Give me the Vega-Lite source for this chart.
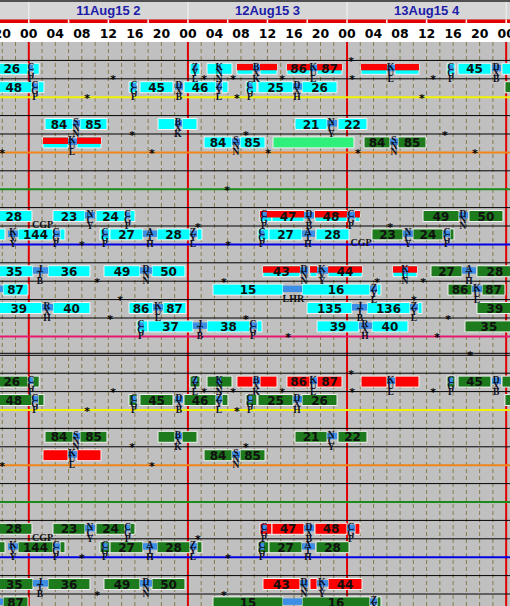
{
"$schema": "https://vega.github.io/schema/vega-lite/v6.json",
"width": 510, "height": 606,
"autosize": {"type": "none"},
"padding": 0,
"background": "#c0c0c0",
"config": {"view": {"stroke": null, "fill": "#c0c0c0"}},
"data": {"values": [{"z": 0}]},
"datasets": {
"grid": [{"h":-4},{"h":-2},{"h":0},{"h":2},{"h":4},{"h":6},{"h":8},{"h":10},{"h":12},{"h":14},{"h":16},{"h":18},{"h":20},{"h":22},{"h":24},{"h":26},{"h":28},{"h":30},{"h":32},{"h":34},{"h":36},{"h":38},{"h":40},{"h":42},{"h":44},{"h":46},{"h":48},{"h":50},{"h":52},{"h":54},{"h":56},{"h":58},{"h":60},{"h":62},{"h":64},{"h":66},{"h":68},{"h":70},{"h":72}],
"six": [{"h":0},{"h":6},{"h":12},{"h":18},{"h":24},{"h":30},{"h":36},{"h":42},{"h":48},{"h":54},{"h":60},{"h":66},{"h":72}],
"days": [{"h":12,"t":"11Aug15 2"},{"h":36,"t":"12Aug15 3"},{"h":60,"t":"13Aug15 4"}],
"hours": [{"h":-4,"t":"20"},{"h":0,"t":"00"},{"h":4,"t":"04"},{"h":8,"t":"08"},{"h":12,"t":"12"},{"h":16,"t":"16"},{"h":20,"t":"20"},{"h":24,"t":"00"},{"h":28,"t":"04"},{"h":32,"t":"08"},{"h":36,"t":"12"},{"h":40,"t":"16"},{"h":44,"t":"20"},{"h":48,"t":"00"},{"h":52,"t":"04"},{"h":56,"t":"08"},{"h":60,"t":"12"},{"h":64,"t":"16"},{"h":68,"t":"20"},{"h":72,"t":"00"}],
"hl": [{"r":1,"c":"k"},{"r":2,"c":"k"},{"r":3,"c":"y"},{"r":4,"c":"k"},{"r":5,"c":"k"},{"r":6,"c":"o"},{"r":7,"c":"k"},{"r":8,"c":"g"},{"r":9,"c":"k"},{"r":10,"c":"k"},{"r":11,"c":"b"},{"r":12,"c":"k"},{"r":13,"c":"k"},{"r":14,"c":"k"},{"r":15,"c":"k"},{"r":16,"c":"m"},{"r":18,"c":"k"},{"r":19,"c":"k"},{"r":20,"c":"y"},{"r":21,"c":"k"},{"r":22,"c":"k"},{"r":23,"c":"o"},{"r":24,"c":"k"},{"r":25,"c":"g"},{"r":26,"c":"k"},{"r":27,"c":"k"},{"r":28,"c":"b"},{"r":29,"c":"k"},{"r":30,"c":"k"}],
"bars": [
{"s":-5,"e":-0.12,"r":2,"c":"cy","t":"26"},{"s":0.63,"e":1.57,"r":2,"c":"cy","t":""},{"s":24.31,"e":25.82,"r":2,"c":"cy","t":""},{"s":26.88,"e":30.65,"r":2,"c":"cy","t":""},{"s":31.4,"e":33.82,"r":2,"c":"rc","t":""},{"s":34.87,"e":37.44,"r":2,"c":"rc","t":""},{"s":38.94,"e":42.41,"r":2,"c":"rc","t":"86"},{"s":43.48,"e":47.24,"r":2,"c":"rc","t":"87"},{"s":50.11,"e":54.03,"r":2,"c":"rc","t":""},{"s":55.23,"e":58.85,"r":2,"c":"rc","t":""},{"s":63.08,"e":64.28,"r":2,"c":"cy","t":""},{"s":64.74,"e":69.71,"r":2,"c":"cy","t":"45"},{"s":71.37,"e":73,"r":2,"c":"cy","t":""},
{"s":-5,"e":0.48,"r":3,"c":"cy","t":"48"},{"s":1.39,"e":2.29,"r":3,"c":"cy","t":""},{"s":15.11,"e":16.32,"r":3,"c":"cy","t":""},{"s":16.77,"e":21.75,"r":3,"c":"cy","t":"45"},{"s":23.41,"e":28.24,"r":3,"c":"cy","t":"46"},{"s":29.14,"e":30.05,"r":3,"c":"cy","t":""},{"s":32.76,"e":34.4,"r":3,"c":"cy","t":""},{"s":34.57,"e":39.85,"r":3,"c":"cy","t":"25"},{"s":41.21,"e":46.49,"r":3,"c":"cy","t":"26"},{"s":71.82,"e":73,"r":3,"c":"gr","t":""},
{"s":2.44,"e":6.67,"r":5,"c":"cy","t":"84"},{"s":7.72,"e":11.79,"r":5,"c":"cy","t":"85"},{"s":19.49,"e":22.05,"r":5,"c":"cy","t":""},{"s":23.11,"e":25.37,"r":5,"c":"cy","t":""},{"s":40.15,"e":44.99,"r":5,"c":"cy","t":"21"},{"s":46.64,"e":51.01,"r":5,"c":"cy","t":"22"},
{"s":2.14,"e":5.91,"r":6,"c":"rc","t":""},{"s":7.27,"e":10.89,"r":6,"c":"rc","t":""},{"s":26.43,"e":30.65,"r":6,"c":"cy","t":"84"},{"s":31.86,"e":35.63,"r":6,"c":"cy","t":"85"},{"s":36.83,"e":49.05,"r":6,"c":"lg","t":""},{"s":50.56,"e":54.48,"r":6,"c":"gr","t":"84"},{"s":55.69,"e":59.91,"r":6,"c":"gr","t":"85"},
{"s":-5,"e":0.48,"r":10,"c":"cy","t":"28"},{"s":3.65,"e":8.48,"r":10,"c":"cy","t":"23"},{"s":10.14,"e":14.51,"r":10,"c":"cy","t":"24"},{"s":15.26,"e":16.02,"r":10,"c":"cy","t":""},{"s":34.87,"e":36.68,"r":10,"c":"rc","t":""},{"s":36.68,"e":41.51,"r":10,"c":"rc","t":"47"},{"s":43.17,"e":47.99,"r":10,"c":"rc","t":"48"},{"s":49.2,"e":49.95,"r":10,"c":"rc","t":""},{"s":59.46,"e":64.89,"r":10,"c":"gr","t":"49"},{"s":66.39,"e":71.52,"r":10,"c":"gr","t":"50"},
{"s":-5,"e":-3.59,"r":11,"c":"cy","t":""},{"s":-1.63,"e":3.65,"r":11,"c":"cy","t":"144"},{"s":4.71,"e":5.46,"r":11,"c":"cy","t":""},{"s":10.74,"e":12.25,"r":11,"c":"cy","t":""},{"s":12.25,"e":17.22,"r":11,"c":"cy","t":"27"},{"s":19.34,"e":24.31,"r":11,"c":"cy","t":"28"},{"s":25.37,"e":26.12,"r":11,"c":"cy","t":""},{"s":34.57,"e":36.23,"r":11,"c":"cy","t":""},{"s":36.23,"e":41.21,"r":11,"c":"cy","t":"27"},{"s":43.32,"e":48.3,"r":11,"c":"cy","t":"28"},{"s":51.76,"e":56.44,"r":11,"c":"gr","t":"23"},{"s":57.94,"e":62.47,"r":11,"c":"gr","t":"24"},{"s":63.53,"e":64.13,"r":11,"c":"gr","t":""},
{"s":-5,"e":0.63,"r":13,"c":"cy","t":"35"},{"s":2.9,"e":9.23,"r":13,"c":"cy","t":"36"},{"s":11.34,"e":16.77,"r":13,"c":"cy","t":"49"},{"s":18.58,"e":23.56,"r":13,"c":"cy","t":"50"},{"s":35.32,"e":40.9,"r":13,"c":"rc","t":"43"},{"s":42.41,"e":43.48,"r":13,"c":"rc","t":""},{"s":45.14,"e":50.26,"r":13,"c":"rc","t":"44"},{"s":54.93,"e":58.55,"r":13,"c":"rc","t":""},{"s":60.66,"e":65.35,"r":13,"c":"gr","t":"27"},{"s":67.6,"e":73,"r":13,"c":"gr","t":"28"},
{"s":-3.89,"e":-0.12,"r":14,"c":"cy","t":"87"},{"s":27.78,"e":38.34,"r":14,"c":"cy","t":"15"},{"s":41.21,"e":51.46,"r":14,"c":"cy","t":"16"},{"s":52.52,"e":53.12,"r":14,"c":"cy","t":""},{"s":63.23,"e":66.85,"r":14,"c":"gr","t":"86"},{"s":68.36,"e":71.82,"r":14,"c":"gr","t":"87"},
{"s":-5,"e":1.99,"r":15,"c":"cy","t":"39"},{"s":3.65,"e":9.23,"r":15,"c":"cy","t":"40"},{"s":15.11,"e":18.73,"r":15,"c":"cy","t":"86"},{"s":20.24,"e":23.71,"r":15,"c":"cy","t":"87"},{"s":41.96,"e":48.75,"r":15,"c":"cy","t":"135"},{"s":51.01,"e":57.49,"r":15,"c":"cy","t":"136"},{"s":58.7,"e":59.31,"r":15,"c":"cy","t":""},{"s":67.6,"e":73,"r":15,"c":"gr","t":"39"},
{"s":16.32,"e":17.98,"r":16,"c":"cy","t":""},{"s":17.98,"e":24.77,"r":16,"c":"cy","t":"37"},{"s":26.88,"e":33.36,"r":16,"c":"cy","t":"38"},{"s":34.42,"e":35.17,"r":16,"c":"cy","t":""},{"s":43.48,"e":49.8,"r":16,"c":"cy","t":"39"},{"s":51.76,"e":57.19,"r":16,"c":"cy","t":"40"},{"s":65.79,"e":73,"r":16,"c":"gr","t":"35"},
{"s":-5,"e":-0.12,"r":19,"c":"gr","t":"26"},{"s":0.63,"e":1.57,"r":19,"c":"gr","t":""},{"s":24.31,"e":25.82,"r":19,"c":"gr","t":""},{"s":26.88,"e":30.65,"r":19,"c":"gr","t":""},{"s":31.4,"e":33.82,"r":19,"c":"rd","t":""},{"s":34.87,"e":37.44,"r":19,"c":"rd","t":""},{"s":38.94,"e":42.41,"r":19,"c":"rd","t":"86"},{"s":43.48,"e":47.24,"r":19,"c":"rd","t":"87"},{"s":50.11,"e":54.03,"r":19,"c":"rd","t":""},{"s":55.23,"e":58.85,"r":19,"c":"rd","t":""},{"s":63.08,"e":64.28,"r":19,"c":"gr","t":""},{"s":64.74,"e":69.71,"r":19,"c":"gr","t":"45"},{"s":71.37,"e":73,"r":19,"c":"gr","t":""},
{"s":-5,"e":0.48,"r":20,"c":"gr","t":"48"},{"s":1.39,"e":2.29,"r":20,"c":"gr","t":""},{"s":15.11,"e":16.32,"r":20,"c":"gr","t":""},{"s":16.77,"e":21.75,"r":20,"c":"gr","t":"45"},{"s":23.41,"e":28.24,"r":20,"c":"gr","t":"46"},{"s":29.14,"e":30.05,"r":20,"c":"gr","t":""},{"s":32.76,"e":34.4,"r":20,"c":"gr","t":""},{"s":34.57,"e":39.85,"r":20,"c":"gr","t":"25"},{"s":41.21,"e":46.49,"r":20,"c":"gr","t":"26"},{"s":71.82,"e":73,"r":20,"c":"gr","t":""},
{"s":2.44,"e":6.67,"r":22,"c":"gr","t":"84"},{"s":7.72,"e":11.79,"r":22,"c":"gr","t":"85"},{"s":19.49,"e":22.05,"r":22,"c":"gr","t":""},{"s":23.11,"e":25.37,"r":22,"c":"gr","t":""},{"s":40.15,"e":44.99,"r":22,"c":"gr","t":"21"},{"s":46.64,"e":51.01,"r":22,"c":"gr","t":"22"},
{"s":2.14,"e":5.91,"r":23,"c":"rd","t":""},{"s":7.27,"e":10.89,"r":23,"c":"rd","t":""},{"s":26.43,"e":30.65,"r":23,"c":"gr","t":"84"},{"s":31.86,"e":35.63,"r":23,"c":"gr","t":"85"},
{"s":-5,"e":0.48,"r":27,"c":"gr","t":"28"},{"s":3.65,"e":8.48,"r":27,"c":"gr","t":"23"},{"s":10.14,"e":14.51,"r":27,"c":"gr","t":"24"},{"s":15.26,"e":16.02,"r":27,"c":"gr","t":""},{"s":34.87,"e":36.68,"r":27,"c":"rd","t":""},{"s":36.68,"e":41.51,"r":27,"c":"rd","t":"47"},{"s":43.17,"e":47.99,"r":27,"c":"rd","t":"48"},{"s":49.2,"e":49.95,"r":27,"c":"rd","t":""},
{"s":-5,"e":-3.59,"r":28,"c":"gr","t":""},{"s":-1.63,"e":3.65,"r":28,"c":"gr","t":"144"},{"s":4.71,"e":5.46,"r":28,"c":"gr","t":""},{"s":10.74,"e":12.25,"r":28,"c":"gr","t":""},{"s":12.25,"e":17.22,"r":28,"c":"gr","t":"27"},{"s":19.34,"e":24.31,"r":28,"c":"gr","t":"28"},{"s":25.37,"e":26.12,"r":28,"c":"gr","t":""},{"s":34.57,"e":36.23,"r":28,"c":"gr","t":""},{"s":36.23,"e":41.21,"r":28,"c":"gr","t":"27"},{"s":43.32,"e":48.3,"r":28,"c":"gr","t":"28"},
{"s":-5,"e":0.63,"r":30,"c":"gr","t":"35"},{"s":2.9,"e":9.23,"r":30,"c":"gr","t":"36"},{"s":11.34,"e":16.77,"r":30,"c":"gr","t":"49"},{"s":18.58,"e":23.56,"r":30,"c":"gr","t":"50"},{"s":35.32,"e":40.9,"r":30,"c":"rd","t":"43"},{"s":42.41,"e":43.48,"r":30,"c":"rd","t":""},{"s":45.14,"e":50.26,"r":30,"c":"rd","t":"44"},
{"s":-3.89,"e":-0.12,"r":31,"c":"gr","t":"87"},{"s":27.78,"e":38.34,"r":31,"c":"gr","t":"15"},{"s":41.21,"e":51.46,"r":31,"c":"gr","t":"16"},{"s":52.52,"e":53.12,"r":31,"c":"gr","t":""}
],
"links": [
{"s":-0.12,"e":0.63,"r":2},{"s":24.7,"e":25.4,"r":2},{"s":28.3,"e":29.0,"r":2},{"s":33.82,"e":34.87,"r":2},{"s":42.41,"e":43.48,"r":2},{"s":54.03,"e":55.23,"r":2},{"s":63.3,"e":64.0,"r":2},{"s":69.86,"e":71.22,"r":2},
{"s":0.48,"e":1.39,"r":3},{"s":15.5,"e":16.2,"r":3},{"s":22.05,"e":23.26,"r":3},{"s":28.24,"e":29.14,"r":3},{"s":33.0,"e":33.7,"r":3},{"s":39.85,"e":41.21,"r":3},
{"s":6.67,"e":7.72,"r":5},{"s":22.05,"e":23.11,"r":5},{"s":44.99,"e":46.49,"r":5},
{"s":5.91,"e":7.27,"r":6},{"s":30.65,"e":31.86,"r":6},{"s":54.48,"e":55.69,"r":6},
{"s":8.48,"e":9.98,"r":10},{"s":14.51,"e":15.26,"r":10},{"s":35.1,"e":35.9,"r":10},{"s":41.51,"e":43.02,"r":10},{"s":47.99,"e":49.2,"r":10},{"s":64.89,"e":66.24,"r":10},
{"s":-3.14,"e":-1.63,"r":11},{"s":3.65,"e":4.71,"r":11},{"s":11.1,"e":11.9,"r":11},{"s":17.22,"e":19.34,"r":11},{"s":24.31,"e":25.37,"r":11},{"s":34.8,"e":35.5,"r":11},{"s":41.21,"e":43.17,"r":11},{"s":56.44,"e":57.94,"r":11},{"s":62.47,"e":63.53,"r":11},
{"s":0.63,"e":2.9,"r":13},{"s":16.77,"e":18.58,"r":13},{"s":40.9,"e":42.11,"r":13},{"s":43.48,"e":45.14,"r":13},{"s":56.3,"e":57.2,"r":13},{"s":65.35,"e":67.45,"r":13},
{"s":-5,"e":-3.89,"r":14},{"s":38.34,"e":41.21,"r":14},{"s":51.46,"e":52.52,"r":14},{"s":66.85,"e":68.36,"r":14},
{"s":1.99,"e":3.65,"r":15},{"s":18.73,"e":20.24,"r":15},{"s":48.75,"e":51.01,"r":15},{"s":57.49,"e":58.7,"r":15},
{"s":16.5,"e":17.3,"r":16},{"s":24.77,"e":26.88,"r":16},{"s":33.36,"e":34.42,"r":16},{"s":49.8,"e":51.76,"r":16},
{"s":-0.12,"e":0.63,"r":19},{"s":24.7,"e":25.4,"r":19},{"s":28.3,"e":29.0,"r":19},{"s":33.82,"e":34.87,"r":19},{"s":42.41,"e":43.48,"r":19},{"s":54.03,"e":55.23,"r":19},{"s":63.3,"e":64.0,"r":19},{"s":69.86,"e":71.22,"r":19},
{"s":0.48,"e":1.39,"r":20},{"s":15.5,"e":16.2,"r":20},{"s":22.05,"e":23.26,"r":20},{"s":28.24,"e":29.14,"r":20},{"s":33.0,"e":33.7,"r":20},{"s":39.85,"e":41.21,"r":20},
{"s":6.67,"e":7.72,"r":22},{"s":22.05,"e":23.11,"r":22},{"s":44.99,"e":46.49,"r":22},
{"s":5.91,"e":7.27,"r":23},{"s":30.65,"e":31.86,"r":23},
{"s":8.48,"e":9.98,"r":27},{"s":14.51,"e":15.26,"r":27},{"s":35.1,"e":35.9,"r":27},{"s":41.51,"e":43.02,"r":27},{"s":47.99,"e":49.2,"r":27},
{"s":-3.14,"e":-1.63,"r":28},{"s":3.65,"e":4.71,"r":28},{"s":11.1,"e":11.9,"r":28},{"s":17.22,"e":19.34,"r":28},{"s":24.31,"e":25.37,"r":28},{"s":34.8,"e":35.5,"r":28},{"s":41.21,"e":43.17,"r":28},
{"s":0.63,"e":2.9,"r":30},{"s":16.77,"e":18.58,"r":30},{"s":40.9,"e":42.11,"r":30},{"s":43.48,"e":45.14,"r":30},
{"s":-5,"e":-3.89,"r":31},{"s":38.34,"e":41.21,"r":31},{"s":51.46,"e":52.52,"r":31}
],
"codes": [
{"h":0.33,"r":2,"t":"C\nG\nP"},{"h":25.07,"r":2,"t":"Z\nY\nL"},{"h":28.7,"r":2,"t":"K\nN\nN"},{"h":34.3,"r":2,"t":"B\nX\nK"},{"h":42.9,"r":2,"t":"K\nU\nL"},{"h":54.6,"r":2,"t":"K\nU\nL"},{"h":63.68,"r":2,"t":"C\nG\nP"},{"h":70.5,"r":2,"t":"D\nX\nB"},
{"h":0.94,"r":3,"t":"C\nG\nP"},{"h":15.87,"r":3,"t":"C\nG\nP"},{"h":22.65,"r":3,"t":"D\nX\nB"},{"h":28.69,"r":3,"t":"Z\nY\nL"},{"h":33.36,"r":3,"t":"C\nG\nP"},{"h":40.45,"r":3,"t":"D\nX\nH"},
{"h":7.12,"r":5,"t":"S\nN\nN"},{"h":22.5,"r":5,"t":"B\nX\nK"},{"h":45.6,"r":5,"t":"N\nC\nY"},
{"h":6.52,"r":6,"t":"K\nU\nL"},{"h":31.25,"r":6,"t":"S\nN\nN"},{"h":55.08,"r":6,"t":"S\nN\nN"},
{"h":9.23,"r":10,"t":"N\nC\nY"},{"h":14.9,"r":10,"t":"C\nG\nP"},{"h":35.47,"r":10,"t":"C\nG\nP"},{"h":42.26,"r":10,"t":"D\nX\nB"},{"h":48.6,"r":10,"t":"C\nG\nP"},{"h":65.5,"r":10,"t":"D\nN\nN"},
{"h":-2.38,"r":11,"t":"K\nV\nY"},{"h":4.1,"r":11,"t":"C\nG\nP"},{"h":11.49,"r":11,"t":"C\nG\nP"},{"h":18.28,"r":11,"t":"A\nT\nH"},{"h":24.77,"r":11,"t":"Z\nY\nL"},{"h":35.17,"r":11,"t":"C\nG\nP"},{"h":42.11,"r":11,"t":"A\nT\nH"},{"h":57.19,"r":11,"t":"N\nC\nY"},{"h":63.08,"r":11,"t":"C\nG\nP"},
{"h":1.69,"r":13,"t":"J\nT\nB"},{"h":17.68,"r":13,"t":"D\nN\nN"},{"h":41.51,"r":13,"t":"D\nN\nN"},{"h":44.23,"r":13,"t":"K\nV\nY"},{"h":56.74,"r":13,"t":"K\nU\nN"},{"h":66.39,"r":13,"t":"A\nT\nH"},
{"h":52.07,"r":14,"t":"Z\nY\nL"},{"h":67.6,"r":14,"t":"K\nU\nL"},
{"h":2.75,"r":15,"t":"R\nX\nH"},{"h":19.49,"r":15,"t":"K\nU\nL"},{"h":49.95,"r":15,"t":"J\nT\nB"},{"h":58.1,"r":15,"t":"Z\nY\nL"},
{"h":16.92,"r":16,"t":"C\nG\nP"},{"h":25.82,"r":16,"t":"J\nT\nB"},{"h":33.82,"r":16,"t":"C\nG\nP"},{"h":50.71,"r":16,"t":"R\nX\nH"},
{"h":0.33,"r":19,"t":"C\nG\nP"},{"h":25.07,"r":19,"t":"Z\nY\nL"},{"h":28.7,"r":19,"t":"K\nN\nN"},{"h":34.3,"r":19,"t":"B\nX\nK"},{"h":42.9,"r":19,"t":"K\nU\nL"},{"h":54.6,"r":19,"t":"K\nU\nL"},{"h":63.68,"r":19,"t":"C\nG\nP"},{"h":70.5,"r":19,"t":"D\nX\nB"},
{"h":0.94,"r":20,"t":"C\nG\nP"},{"h":15.87,"r":20,"t":"C\nG\nP"},{"h":22.65,"r":20,"t":"D\nX\nB"},{"h":28.69,"r":20,"t":"Z\nY\nL"},{"h":33.36,"r":20,"t":"C\nG\nP"},{"h":40.45,"r":20,"t":"D\nX\nH"},
{"h":7.12,"r":22,"t":"S\nN\nN"},{"h":22.5,"r":22,"t":"B\nX\nK"},{"h":45.6,"r":22,"t":"N\nC\nY"},
{"h":6.52,"r":23,"t":"K\nU\nL"},{"h":31.25,"r":23,"t":"S\nN\nN"},
{"h":9.23,"r":27,"t":"N\nC\nY"},{"h":14.9,"r":27,"t":"C\nG\nP"},{"h":35.47,"r":27,"t":"C\nG\nP"},{"h":42.26,"r":27,"t":"D\nX\nB"},{"h":48.6,"r":27,"t":"C\nG\nP"},
{"h":-2.38,"r":28,"t":"K\nV\nY"},{"h":4.1,"r":28,"t":"C\nG\nP"},{"h":11.49,"r":28,"t":"C\nG\nP"},{"h":18.28,"r":28,"t":"A\nT\nH"},{"h":24.77,"r":28,"t":"Z\nY\nL"},{"h":35.17,"r":28,"t":"C\nG\nP"},{"h":42.11,"r":28,"t":"A\nT\nH"},
{"h":1.69,"r":30,"t":"J\nT\nB"},{"h":17.68,"r":30,"t":"D\nN\nN"},{"h":41.51,"r":30,"t":"D\nN\nN"},{"h":44.23,"r":30,"t":"K\nV\nY"},
{"h":52.07,"r":31,"t":"Z\nY\nL"}
],
"stops": [{"h":2.07,"r":10,"t":"CGP"},{"h":50.1,"r":11,"t":"CGP"},{"h":39.9,"r":14,"t":"LHR"},{"h":2.07,"r":27,"t":"CGP"}],
"stars": [
{"h":48.6,"r":1},{"h":12.7,"r":2},{"h":26.43,"r":2},{"h":30.8,"r":2},{"h":38.2,"r":2},{"h":48.75,"r":2},{"h":61.0,"r":2},
{"h":8.78,"r":3},{"h":31.4,"r":3},{"h":59.3,"r":3},{"h":15.57,"r":5},{"h":32.76,"r":5},{"h":62.77,"r":5},
{"h":-4.04,"r":6},{"h":18.58,"r":6},{"h":36.08,"r":6},{"h":49.65,"r":6},{"h":67.3,"r":6},{"h":29.9,"r":8},
{"h":25.5,"r":10},{"h":54.5,"r":10},{"h":8.02,"r":11},{"h":30.05,"r":11},
{"h":10.29,"r":13},{"h":29.44,"r":13},{"h":52.52,"r":13},{"h":59.46,"r":13},{"h":13.76,"r":14},{"h":58.1,"r":14},
{"h":12.25,"r":15},{"h":32.76,"r":15},{"h":63.23,"r":15},{"h":39.1,"r":16},{"h":61.57,"r":16},{"h":66.55,"r":17},
{"h":48.6,"r":18},{"h":12.7,"r":19},{"h":26.43,"r":19},{"h":30.8,"r":19},{"h":38.2,"r":19},{"h":48.75,"r":19},{"h":61.0,"r":19},
{"h":8.78,"r":20},{"h":31.4,"r":20},{"h":15.57,"r":22},{"h":32.76,"r":22},{"h":-4.04,"r":23},{"h":18.58,"r":23},
{"h":25.5,"r":27},{"h":8.02,"r":28},{"h":30.05,"r":28},{"h":10.29,"r":30},{"h":29.44,"r":30}
]
},
"layer": [
{"data": {"name": "grid"}, "transform": [{"filter": "datum.h % 24 != 0"}],
 "mark": {"type": "rule", "stroke": "#877b4c", "strokeWidth": 1, "strokeDash": [4, 3]},
 "encoding": {"x": {"field": "h", "type": "quantitative", "scale": {"domain": [-4.344, 72.58], "nice": false, "zero": false}, "axis": null}}},
{"data": {"name": "grid"}, "transform": [{"filter": "datum.h % 24 == 0"}],
 "mark": {"type": "rule", "stroke": "#e00000", "strokeWidth": 2},
 "encoding": {"x": {"field": "h", "type": "quantitative", "axis": null}}},
{"data": {"name": "hl"}, "transform": [{"filter": "datum.c == 'k'"}],
 "mark": {"type": "rule", "stroke": "#000000", "strokeWidth": 1},
 "encoding": {"y": {"field": "r", "type": "quantitative", "scale": {"domain": [-2.283, 30.652], "nice": false, "zero": false, "reverse": true}, "axis": null}}},
{"data": {"name": "hl"}, "transform": [{"filter": "datum.c != 'k'"}],
 "mark": {"type": "rule", "strokeWidth": 2},
 "encoding": {"y": {"field": "r", "type": "quantitative", "axis": null},
  "stroke": {"field": "c", "type": "nominal", "scale": {"domain": ["y", "o", "g", "b", "m"], "range": ["#f2f200", "#f08418", "#1a8a1a", "#0000e6", "#e8186e"]}, "legend": null}}},
{"mark": {"type": "rule", "stroke": "#000000", "strokeWidth": 1, "yOffset": -1.5},
 "encoding": {"y": {"datum": 17, "type": "quantitative", "axis": null}}},
{"mark": {"type": "rule", "stroke": "#000000", "strokeWidth": 1, "yOffset": 0.5},
 "encoding": {"y": {"datum": 17, "type": "quantitative", "axis": null}}},
{"data": {"name": "bars"},
 "mark": {"type": "rect", "yOffset": -15.5, "y2Offset": -4.5, "stroke": "#f2f2f2", "strokeWidth": 1},
 "encoding": {"x": {"field": "s", "type": "quantitative", "axis": null}, "x2": {"field": "e"},
  "y": {"field": "r", "type": "quantitative", "axis": null}, "y2": {"field": "r"},
  "fill": {"field": "c", "type": "nominal", "scale": {"domain": ["cy", "rd", "gr", "lg", "rc"], "range": ["#00ffff", "#ff0000", "#1d7a1d", "#2ef07a", "#00ffff"]}, "legend": null}}},
{"data": {"name": "bars"}, "transform": [{"filter": "datum.c == 'rc'"}],
 "mark": {"type": "rect", "yOffset": -15, "y2Offset": -8.5, "fill": "#ff0000"},
 "encoding": {"x": {"field": "s", "type": "quantitative", "axis": null}, "x2": {"field": "e"},
  "y": {"field": "r", "type": "quantitative", "axis": null}, "y2": {"field": "r"}}},
{"data": {"name": "links"},
 "mark": {"type": "rect", "yOffset": -14, "y2Offset": -7.5, "fill": "#3d8fe6"},
 "encoding": {"x": {"field": "s", "type": "quantitative", "axis": null}, "x2": {"field": "e"},
  "y": {"field": "r", "type": "quantitative", "axis": null}, "y2": {"field": "r"}}},
{"data": {"name": "bars"},
 "transform": [{"filter": "datum.t != ''"}, {"fold": ["s", "e"], "as": ["fk", "fv"]}, {"aggregate": [{"op": "mean", "field": "fv", "as": "m"}], "groupby": ["s", "e", "r", "t"]}],
 "mark": {"type": "text", "font": "DejaVu Sans", "fontWeight": "bold", "fontSize": 12, "fill": "#111111", "baseline": "middle", "align": "center", "yOffset": -9.5},
 "encoding": {"x": {"field": "m", "type": "quantitative", "axis": null}, "y": {"field": "r", "type": "quantitative", "axis": null}, "text": {"field": "t"}}},
{"data": {"name": "codes"},
 "mark": {"type": "text", "font": "Liberation Serif", "fontWeight": "bold", "fontSize": 9.5, "lineHeight": 6, "lineBreak": "\n", "fill": "#0e0e22", "baseline": "top", "align": "center", "yOffset": -17},
 "encoding": {"x": {"field": "h", "type": "quantitative", "axis": null}, "y": {"field": "r", "type": "quantitative", "axis": null}, "text": {"field": "t"}}},
{"data": {"name": "stops"},
 "mark": {"type": "text", "font": "Liberation Serif", "fontWeight": "bold", "fontSize": 10, "fill": "#111111", "baseline": "middle", "align": "center", "yOffset": -1},
 "encoding": {"x": {"field": "h", "type": "quantitative", "axis": null}, "y": {"field": "r", "type": "quantitative", "axis": null}, "text": {"field": "t"}}},
{"data": {"name": "stars"},
 "mark": {"type": "text", "text": "*", "font": "DejaVu Sans", "fontWeight": "bold", "fontSize": 11, "fill": "#000000", "baseline": "alphabetic", "align": "center", "yOffset": 4.5},
 "encoding": {"x": {"field": "h", "type": "quantitative", "axis": null}, "y": {"field": "r", "type": "quantitative", "axis": null}}},
{"mark": {"type": "rect", "fill": "#d6d6d6"},
 "encoding": {"x": {"datum": -5, "type": "quantitative", "axis": null}, "x2": {"datum": 73}, "y": {"datum": -2.283, "type": "quantitative", "axis": null}, "y2": {"datum": -1.223}}},
{"mark": {"type": "rect", "fill": "#505050"},
 "encoding": {"x": {"datum": -5, "type": "quantitative", "axis": null}, "x2": {"datum": 73}, "y": {"datum": -2.283, "type": "quantitative", "axis": null}, "y2": {"datum": -2.18}}},
{"mark": {"type": "rect", "fill": "#e00000"},
 "encoding": {"x": {"datum": -5, "type": "quantitative", "axis": null}, "x2": {"datum": 73}, "y": {"datum": -1.223, "type": "quantitative", "axis": null}, "y2": {"datum": -1.033}}},
{"mark": {"type": "rect", "fill": "#ffffff"},
 "encoding": {"x": {"datum": -5, "type": "quantitative", "axis": null}, "x2": {"datum": 73}, "y": {"datum": -1.033, "type": "quantitative", "axis": null}, "y2": {"datum": 0}}},
{"data": {"name": "six"},
 "mark": {"type": "rule", "stroke": "#ffffff", "strokeWidth": 1.5},
 "encoding": {"x": {"field": "h", "type": "quantitative", "axis": null}, "y": {"datum": -1.223, "type": "quantitative", "axis": null}, "y2": {"datum": -1.033}}},
{"data": {"name": "six"}, "transform": [{"filter": "datum.h % 24 == 0"}],
 "mark": {"type": "rule", "stroke": "#f4f4f4", "strokeWidth": 1},
 "encoding": {"x": {"field": "h", "type": "quantitative", "axis": null}, "y": {"datum": -2.18, "type": "quantitative", "axis": null}, "y2": {"datum": -1.223}}},
{"data": {"name": "days"},
 "mark": {"type": "text", "font": "Liberation Sans", "fontWeight": "bold", "fontSize": 13, "fill": "#1c1ca8", "baseline": "middle", "align": "center", "yOffset": 1},
 "encoding": {"x": {"field": "h", "type": "quantitative", "axis": null}, "y": {"datum": -1.739, "type": "quantitative", "axis": null}, "text": {"field": "t"}}},
{"data": {"name": "hours"},
 "mark": {"type": "text", "font": "DejaVu Sans", "fontWeight": "bold", "fontSize": 12.5, "fill": "#000000", "baseline": "middle", "align": "center"},
 "encoding": {"x": {"field": "h", "type": "quantitative", "axis": null}, "y": {"datum": -0.462, "type": "quantitative", "axis": null}, "text": {"field": "t"}}}
]
}
